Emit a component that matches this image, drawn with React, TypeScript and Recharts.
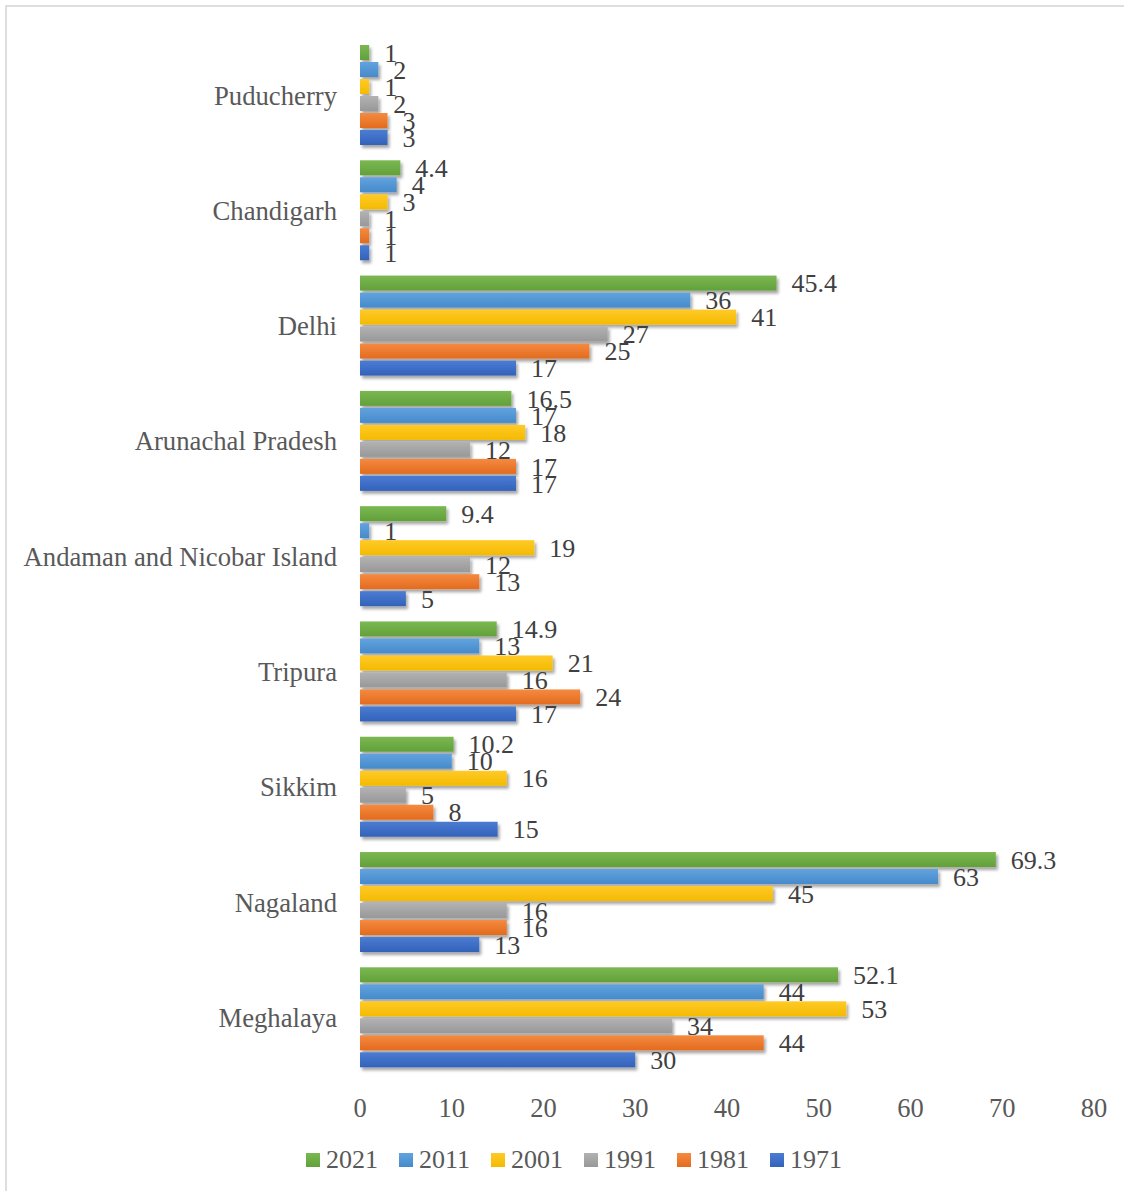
import React from "react";
import { BarChart, Bar, XAxis, YAxis, Legend, LabelList } from "recharts";

// States / UTs, listed top to bottom
const states = [
  "Puducherry",
  "Chandigarh",
  "Delhi",
  "Arunachal Pradesh",
  "Andaman and Nicobar Island",
  "Tripura",
  "Sikkim",
  "Nagaland",
  "Meghalaya",
];

// Values per census year
const v2021 = [1, 4.4, 45.4, 16.5, 9.4, 14.9, 10.2, 69.3, 52.1];
const v2011 = [2, 4, 36, 17, 1, 13, 10, 63, 44];
const v2001 = [1, 3, 41, 18, 19, 21, 16, 45, 53];
const v1991 = [2, 1, 27, 12, 12, 16, 5, 16, 34];
const v1981 = [3, 1, 25, 17, 13, 24, 8, 16, 44];
const v1971 = [3, 1, 17, 17, 5, 17, 15, 13, 30];

const xTicks = [0, 10, 20, 30, 40, 50, 60, 70, 80];

const years = ["2021", "2011", "2001", "1991", "1981", "1971"];
const yearValues = [v2021, v2011, v2001, v1991, v1981, v1971];
// [top, bottom] gradient stops for each year
const yearColors: [string, string][] = [
  ["#7bb852", "#62a03a"],
  ["#62a3de", "#468acb"],
  ["#ffca28", "#f4ba00"],
  ["#b2b2b2", "#989898"],
  ["#f58a40", "#e36b1e"],
  ["#4c7cd2", "#3262ba"],
];

const data = states.map((state, i) => {
  const row: Record<string, string | number> = { state };
  years.forEach((y, k) => {
    row["y" + y] = yearValues[k][i];
  });
  return row;
});

const FONT = "'Liberation Serif', 'Times New Roman', serif";

const ShadowBar = (props: any) => {
  const { x, y, width, height, fill } = props;
  if (!width || width <= 0) return null;
  return (
    <rect
      x={x}
      y={y}
      width={width}
      height={height}
      fill={fill}
      filter="url(#barShadow)"
    />
  );
};

const LegendContent = () => (
  <div
    style={{
      display: "flex",
      alignItems: "center",
      height: 40,
      paddingLeft: 306,
      fontFamily: FONT,
      fontSize: 26,
      color: "#595959",
    }}
  >
    {years.map((y, k) => (
      <div
        key={y}
        style={{ display: "flex", alignItems: "center", marginRight: 21 }}
      >
        <span
          style={{
            display: "inline-block",
            width: 14,
            height: 14,
            marginRight: 6,
            background: `linear-gradient(${yearColors[k][0]}, ${yearColors[k][1]})`,
          }}
        />
        <span style={{ lineHeight: "40px" }}>{y}</span>
      </div>
    ))}
  </div>
);

export default function App() {
  return (
    <div
      style={{
        position: "absolute",
        left: 0,
        top: 0,
        width: 1124,
        height: 1191,
        overflow: "hidden",
        background: "#ffffff",
      }}
    >
      <div
        style={{
          position: "absolute",
          left: 5,
          top: 5,
          width: 1140,
          height: 1220,
          border: "2px solid #dedede",
        }}
      />
      <div style={{ position: "absolute", left: 0, top: 0 }}>
        <BarChart
          width={1124}
          height={1191}
          data={data}
          layout="vertical"
          margin={{ top: 37.4, right: 30, bottom: 11, left: 0 }}
          barCategoryGap={7.6}
          barGap={2}
        >
          <defs>
            {years.map((y, k) => (
              <linearGradient key={y} id={"grad" + y} x1="0" y1="0" x2="0" y2="1">
                <stop offset="0%" stopColor={yearColors[k][0]} />
                <stop offset="100%" stopColor={yearColors[k][1]} />
              </linearGradient>
            ))}
            <filter
              id="barShadow"
              filterUnits="userSpaceOnUse"
              x="0"
              y="0"
              width="1124"
              height="1191"
            >
              <feDropShadow
                dx="2"
                dy="3"
                stdDeviation="1.6"
                floodColor="#000000"
                floodOpacity="0.35"
              />
            </filter>
          </defs>
          <XAxis
            type="number"
            domain={[0, 80]}
            ticks={xTicks}
            interval={0}
            axisLine={false}
            tickLine={false}
            tickSize={0}
            tickMargin={23}
            height={65}
            tick={{ fill: "#595959", fontSize: 26.5, fontFamily: FONT }}
          />
          <YAxis
            type="category"
            dataKey="state"
            width={360}
            interval={0}
            axisLine={false}
            tickLine={false}
            tickSize={0}
            tickMargin={23}
            tick={{ fill: "#595959", fontSize: 26.7, fontFamily: FONT }}
          />
          <Legend verticalAlign="bottom" height={40} content={LegendContent} />
          {years.map((y) => (
            <Bar
              key={y}
              dataKey={"y" + y}
              name={y}
              fill={`url(#grad${y})`}
              shape={ShadowBar}
              isAnimationActive={false}
            >
              <LabelList
                dataKey={"y" + y}
                position="right"
                offset={15}
                fill="#404040"
                fontSize={26}
                fontFamily={FONT}
              />
            </Bar>
          ))}
        </BarChart>
      </div>
    </div>
  );
}
